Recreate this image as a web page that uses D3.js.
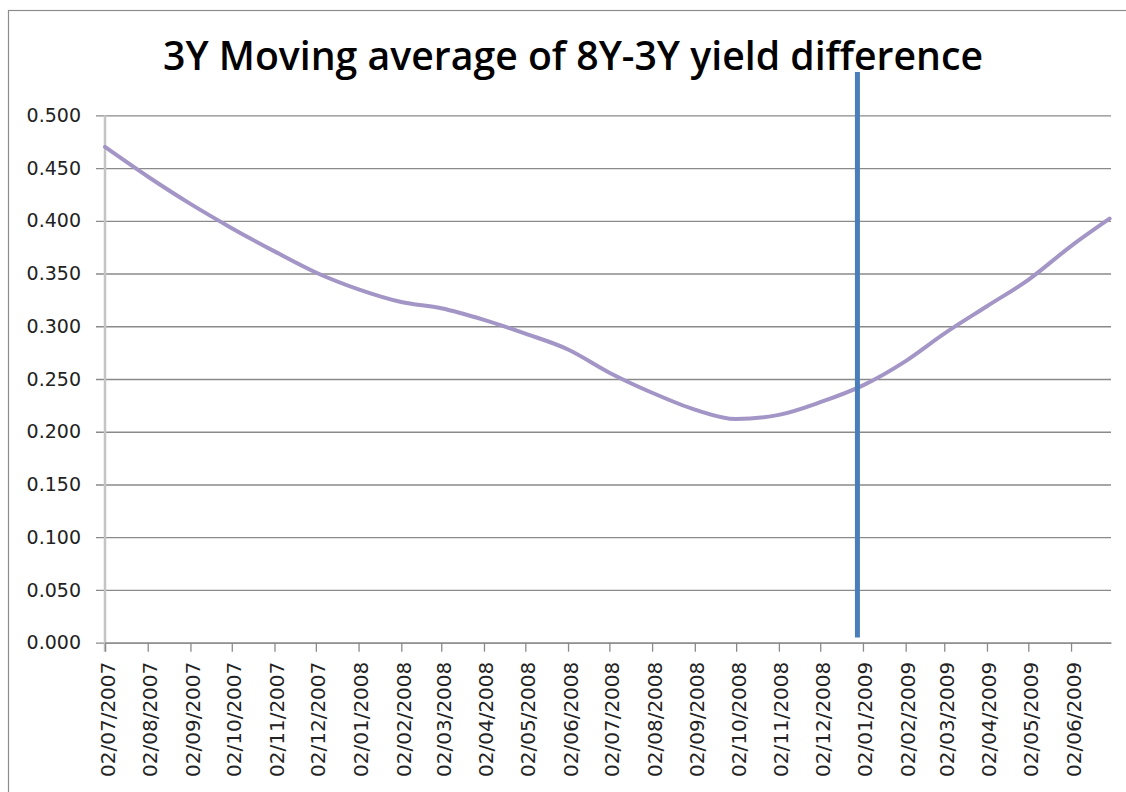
<!DOCTYPE html>
<html>
<head>
<meta charset="utf-8">
<script src="https://cdn.jsdelivr.net/npm/d3@7"></script>
<style>
  body { margin: 0; background: #fff; }
  svg { display: block; }
</style>
</head>
<body>
<svg width="1126" height="792"></svg>
<script>
// monthly readings of the 3Y moving average (dd/mm/yyyy)
var dates = ["02/07/2007","02/08/2007","02/09/2007","02/10/2007","02/11/2007","02/12/2007",
             "02/01/2008","02/02/2008","02/03/2008","02/04/2008","02/05/2008","02/06/2008",
             "02/07/2008","02/08/2008","02/09/2008","02/10/2008","02/11/2008","02/12/2008",
             "02/01/2009","02/02/2009","02/03/2009","02/04/2009","02/05/2009","02/06/2009",
             "30/06/2009"];
var values = [0.470, 0.442, 0.416, 0.393, 0.371, 0.351,
              0.335, 0.323, 0.317, 0.306, 0.293, 0.278,
              0.256, 0.237, 0.221, 0.212, 0.216, 0.228,
              0.244, 0.267, 0.293, 0.319, 0.344, 0.376,
              0.402];
var tickLabels = ["02/07/2007","02/08/2007","02/09/2007","02/10/2007","02/11/2007","02/12/2007",
                  "02/01/2008","02/02/2008","02/03/2008","02/04/2008","02/05/2008","02/06/2008",
                  "02/07/2008","02/08/2008","02/09/2008","02/10/2008","02/11/2008","02/12/2008",
                  "02/01/2009","02/02/2009","02/03/2009","02/04/2009","02/05/2009","02/06/2009"];
var yTicks = [0, 0.05, 0.1, 0.15, 0.2, 0.25, 0.3, 0.35, 0.4, 0.45, 0.5];
// vertical marker line
var markerDate = "29/12/2008";
var markerValues = [0.005, 0.541];
var axisEnd = "01/07/2009";

var parse = d3.timeParse("%d/%m/%Y");
var data = dates.map(function(d, i) { return {date: parse(d), value: values[i]}; });

var svg = d3.select("svg");

svg.append("rect")
    .attr("width", 1126).attr("height", 792).attr("fill", "#fff");

// chart border
svg.append("rect")
    .attr("x", 8.5).attr("y", 10.5)
    .attr("width", 1140).attr("height", 800)
    .attr("fill", "none")
    .attr("stroke", "#8c8c8c")
    .attr("stroke-width", 1.2);

var x = d3.scaleTime()
    .domain([parse(tickLabels[0]), parse(axisEnd)])
    .range([105, 1111]);

var y = d3.scaleLinear()
    .domain([0, 0.5])
    .range([642.7, 115.3]);

// gridlines + y labels
var yAxis = d3.axisLeft(y)
    .tickValues(yTicks)
    .tickFormat(d3.format(".3f"))
    .tickSize(-(1111 - 96))
    .tickPadding(15);

var gy = svg.append("g")
    .attr("transform", "translate(96,0)")
    .call(yAxis);
gy.select(".domain").remove();
gy.selectAll(".tick line")
    .attr("stroke", "#8a8a8a")
    .attr("stroke-width", 1.3);
gy.selectAll(".tick text")
    .attr("fill", "#222")
    .style("font-family", "DejaVu Sans")
    .style("font-size", "19px");

// y axis line
svg.append("line")
    .attr("x1", 105).attr("x2", 105)
    .attr("y1", y(0.5)).attr("y2", y(0) + 9)
    .attr("stroke", "#c4c4c4")
    .attr("stroke-width", 2.5);

// x axis
var xAxis = d3.axisBottom(x)
    .tickValues(tickLabels.map(parse))
    .tickFormat(d3.timeFormat("%d/%m/%Y"))
    .tickSize(9)
    .tickSizeOuter(0);

var gx = svg.append("g")
    .attr("transform", "translate(0," + y(0) + ")")
    .call(xAxis);
gx.select(".domain")
    .attr("stroke", "#8a8a8a")
    .attr("stroke-width", 1.3);
gx.selectAll(".tick line")
    .attr("stroke", "#8a8a8a")
    .attr("stroke-width", 1.3);
gx.selectAll(".tick text")
    .attr("fill", "#222")
    .style("font-family", "DejaVu Sans")
    .style("font-size", "20px")
    .attr("text-anchor", "end")
    .attr("transform", "rotate(-90)")
    .attr("x", -19)
    .attr("y", 2)
    .attr("dy", "0.35em");

// moving average line
var line = d3.line()
    .x(function(d) { return x(d.date); })
    .y(function(d) { return y(d.value); })
    .curve(d3.curveMonotoneX);

svg.append("path")
    .datum(data)
    .attr("fill", "none")
    .attr("stroke", "#a395c6")
    .attr("stroke-width", 4)
    .attr("stroke-linejoin", "round")
    .attr("stroke-linecap", "round")
    .attr("d", line);

// marker line
svg.append("line")
    .attr("x1", x(parse(markerDate))).attr("x2", x(parse(markerDate)))
    .attr("y1", y(markerValues[0])).attr("y2", y(markerValues[1]))
    .attr("stroke", "#4a7ebb")
    .attr("stroke-width", 5);

// title
svg.append("text")
    .attr("x", 573)
    .attr("y", 70)
    .attr("text-anchor", "middle")
    .attr("textLength", 820)
    .attr("lengthAdjust", "spacingAndGlyphs")
    .style("font-family", "Open Sans")
    .style("font-weight", 600)
    .style("font-size", "39px")
    .attr("fill", "#000")
    .text("3Y Moving average of 8Y-3Y yield difference");
</script>
</body>
</html>
